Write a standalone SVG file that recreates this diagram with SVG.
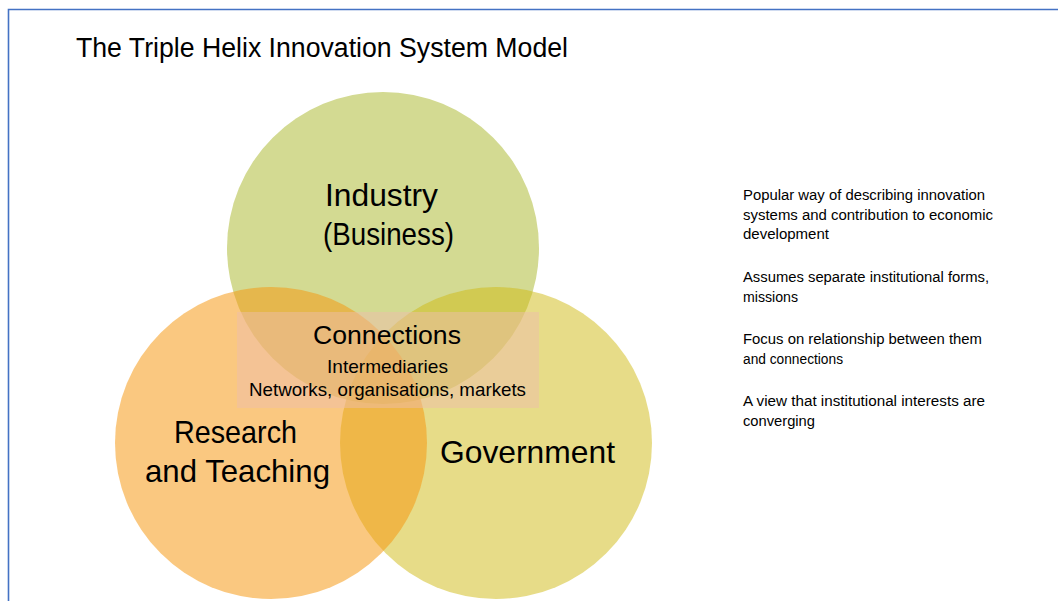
<svg xmlns="http://www.w3.org/2000/svg" width="1058" height="601" viewBox="0 0 1058 601">
  <style>
    text { font-family: "Liberation Sans", Arial, sans-serif; fill: #000; }
    .big { font-size: 30.5px; text-anchor: start; }
    .mid { font-size: 19px; }
    .note { font-size: 14px; }
  </style>
  <rect x="0" y="0" width="1058" height="601" fill="#fff"/>
  <path d="M8.5,601 V9.5 H1058" fill="none" stroke="#4472C4" stroke-width="1.6"/>
  <text x="76" y="57" font-size="27" textLength="492" lengthAdjust="spacingAndGlyphs">The Triple Helix Innovation System Model</text>

  <g id="industry">
    <circle cx="383" cy="248" r="156" fill="#D3DA92"/>
  </g>
  <g id="government">
    <circle cx="496" cy="443" r="156" fill="#CFB911" fill-opacity="0.5"/>
  </g>
  <g id="research">
    <circle cx="271" cy="443" r="156" fill="#F6970F" fill-opacity="0.53"/>
  </g>
  <g id="connections">
    <rect x="237" y="312" width="302" height="96" fill="#EEBDAA" fill-opacity="0.5"/>
    <text x="313" y="344" font-size="26" textLength="148" lengthAdjust="spacingAndGlyphs">Connections</text>
    <text x="327" y="372.5" class="mid" textLength="121" lengthAdjust="spacingAndGlyphs">Intermediaries</text>
    <text x="249" y="396" class="mid" textLength="277" lengthAdjust="spacingAndGlyphs">Networks, organisations, markets</text>
  </g>
  <g id="labels">
    <text x="325" y="206" class="big" textLength="113" lengthAdjust="spacingAndGlyphs">Industry</text>
    <text x="323" y="245" class="big" textLength="131" lengthAdjust="spacingAndGlyphs">(Business)</text>
    <text x="174" y="443" class="big" textLength="123" lengthAdjust="spacingAndGlyphs">Research</text>
    <text x="145" y="482" class="big" textLength="185" lengthAdjust="spacingAndGlyphs">and Teaching</text>
    <text x="440" y="463" class="big" textLength="175" lengthAdjust="spacingAndGlyphs">Government</text>
  </g>
  <g id="notes">
    <text x="743" y="200" class="note" textLength="242" lengthAdjust="spacingAndGlyphs">Popular way of describing innovation</text>
    <text x="743" y="219.5" class="note" textLength="250" lengthAdjust="spacingAndGlyphs">systems and contribution to economic</text>
    <text x="743" y="239" class="note" textLength="86" lengthAdjust="spacingAndGlyphs">development</text>
    <text x="743" y="282" class="note" textLength="246" lengthAdjust="spacingAndGlyphs">Assumes separate institutional forms,</text>
    <text x="743" y="301.5" class="note" textLength="55" lengthAdjust="spacingAndGlyphs">missions</text>
    <text x="743" y="344" class="note" textLength="239" lengthAdjust="spacingAndGlyphs">Focus on relationship between them</text>
    <text x="743" y="363.5" class="note" textLength="100" lengthAdjust="spacingAndGlyphs">and connections</text>
    <text x="743" y="406" class="note" textLength="242" lengthAdjust="spacingAndGlyphs">A view that institutional interests are</text>
    <text x="743" y="425.5" class="note" textLength="72" lengthAdjust="spacingAndGlyphs">converging</text>
  </g>
  <g id="connectors"/>
</svg>
